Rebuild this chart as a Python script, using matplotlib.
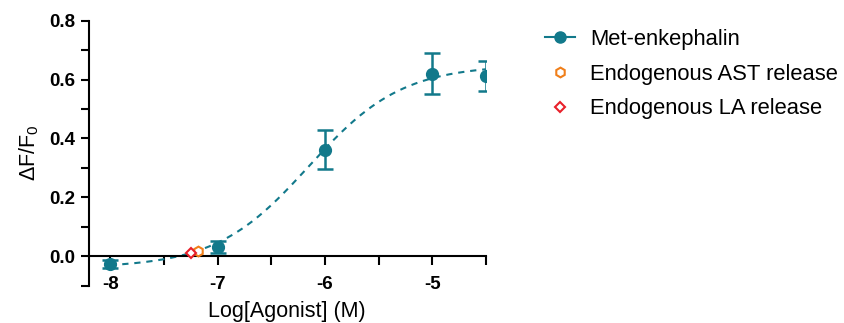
import numpy as np
import matplotlib
matplotlib.use("Agg")
import matplotlib.pyplot as plt
from matplotlib.ticker import MultipleLocator
from matplotlib.lines import Line2D

plt.rcParams['font.family'] = ['Liberation Sans', 'DejaVu Sans']

# Data
log_conc = [-8, -7, -6, -5, -4.5]
response = [-0.027, 0.031, 0.362, 0.620, 0.612]
sem = [0.013, 0.022, 0.067, 0.070, 0.050]

# Fitted 4-parameter logistic parameters
fit_bottom = -0.040
fit_top = 0.650
fit_logec50 = -6.15
fit_hill = 1.0

ast_x = [-7.18]
ast_y = [0.019]
la_x = [-7.25]
la_y = [0.009]

x_ticks = [-8, -7, -6, -5]
x_ticklabels = ['-8', '-7', '-6', '-5']
y_ticks = [0.0, 0.2, 0.4, 0.6, 0.8]
y_ticklabels = ['0.0', '0.2', '0.4', '0.6', '0.8']
labels = ['Met-enkephalin', 'Endogenous AST release', 'Endogenous LA release']

teal = '#12798b'
orange = '#f07f1a'
red = '#e8202a'

fig = plt.figure(figsize=(8.45, 3.23), dpi=100)
ax = fig.add_axes([0.105, 0.116, 0.47, 0.82])

xs = np.linspace(-8, -4.5, 300)
ys = fit_bottom + (fit_top - fit_bottom) / (1 + 10 ** ((fit_logec50 - xs) * fit_hill))
ax.plot(xs, ys, ls=(0, (3, 2.8)), color=teal, lw=1.5, zorder=2)

ax.errorbar(log_conc, response, yerr=sem, fmt='o', color=teal, ms=8.5,
            capsize=5.5, elinewidth=1.8, capthick=1.8, zorder=3)
ax.plot(ast_x, ast_y, marker='h', ls='none', mfc='white', mec=orange,
        ms=7, mew=1.5, zorder=4)
ax.plot(la_x, la_y, marker='D', ls='none', mfc='white', mec=red,
        ms=5.5, mew=1.5, zorder=4)

ax.set_xlim(-8.2, -4.5)
ax.set_ylim(-0.1, 0.8)
ax.spines['bottom'].set_position(('data', 0))
ax.spines['top'].set_visible(False)
ax.spines['right'].set_visible(False)
for s in ('left', 'bottom'):
    ax.spines[s].set_linewidth(1.5)

ax.set_xticks(x_ticks)
ax.set_xticklabels(x_ticklabels)
ax.xaxis.set_minor_locator(MultipleLocator(0.5))
ax.set_yticks(y_ticks)
ax.set_yticklabels(y_ticklabels)
ax.yaxis.set_minor_locator(MultipleLocator(0.1))
ax.tick_params(axis='both', which='major', width=1.5, labelsize=13.5)
ax.tick_params(axis='both', which='minor', width=1.5)
ax.tick_params(axis='x', which='both', direction='out', length=6.5, pad=8)
ax.tick_params(axis='y', which='both', direction='out', length=5.5, pad=4)
for lab in ax.get_xticklabels() + ax.get_yticklabels():
    lab.set_fontweight('bold')

ax.set_ylabel('ΔF/F$_\\mathregular{0}$', fontsize=15.5)
ax.yaxis.set_label_coords(-0.12, 0.5)
ax.set_xlabel('Log[Agonist] (M)', fontsize=15.5)
ax.xaxis.set_label_coords(0.5, -0.058)

handles = [
    Line2D([], [], color=teal, marker='o', ms=8, lw=1.5),
    Line2D([], [], color=orange, marker='h', mfc='white', ms=7, mew=1.5, ls='none'),
    Line2D([], [], color=red, marker='D', mfc='white', ms=5.5, mew=1.5, ls='none'),
]
fig.legend(handles, labels, loc='upper left', bbox_to_anchor=(0.645, 0.91),
           frameon=False, fontsize=15.8, handlelength=1.36, labelspacing=0.62,
           handletextpad=0.68, borderpad=0, borderaxespad=0)

fig.savefig('out.png', dpi=100)
